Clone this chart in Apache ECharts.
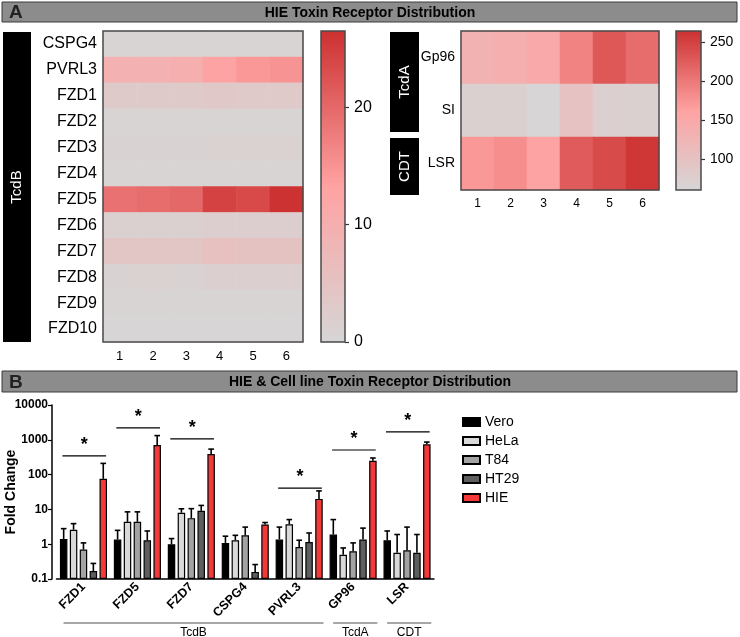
<!DOCTYPE html>
<html><head><meta charset="utf-8">
<script src="https://cdn.jsdelivr.net/npm/echarts@6/dist/echarts.min.js"></script>
<style>html,body{margin:0;padding:0;background:#fff}#c{width:740px;height:637px}</style>
</head><body><div id="c"></div>
<script>
// ---------- Panel A data ----------
const heatCols = ['1','2','3','4','5','6'];
const tcdbRows = ['CSPG4','PVRL3','FZD1','FZD2','FZD3','FZD4','FZD5','FZD6','FZD7','FZD8','FZD9','FZD10'];
const tcdbValues = [
  [0.5,0.5,0.5,0.5,0.5,0.5],
  [9.5,9.5,10,13,14.5,15],
  [3,3,3,3.5,3.2,3.2],
  [0.5,0.5,0.5,0.5,0.5,0.5],
  [1,1,1,1.4,1.4,1.4],
  [0.6,0.6,0.6,0.6,0.6,0.6],
  [19,19.5,20,24.4,23.5,26.3],
  [1.5,1.5,1.5,2,2,2],
  [4,4,4,5.5,5,5],
  [1,1.2,1,1.8,1.8,1.8],
  [0.5,0.5,0.5,0.5,0.5,0.5],
  [0.3,0.3,0.3,0.3,0.3,0.3]
];
const tcdbMin = 0, tcdbMax = 26.5;
const tcdbTicks = [0,10,20];
const rightRows = ['Gp96','SI','LSR'];
const rightValues = [
  [131,138,148,190,228,210],
  [72,73,63,100,75,73],
  [172,180,160,225,240,258]
];
const rightMin = 61, rightMax = 264;
const rightTicks = [100,150,200,250];
const heatColors = ['#d6d6d6','#ffa2a2','#cc3030'];

// ---------- Panel B data ----------
const categories = ['FZD1','FZD5','FZD7','CSPG4','PVRL3','GP96','LSR'];
const seriesNames = ['Vero','HeLa','T84','HT29','HIE'];
const vero    = [1.42,1.36,1.0,1.09,1.36,1.89,1.3];
const veroErr = [2.8,2.5,1.45,1.7,3.1,5.1,2.4];
const hela    = [2.6,4.4,8.0,1.3,3.75,0.5,0.57];
const helaErr = [3.9,8.5,10.4,1.8,5.1,0.78,1.9];
const t84     = [0.70,4.4,5.6,1.8,0.83,0.63,0.67];
const t84Err  = [1.09,8.5,10.5,3.1,1.3,1.09,3.1];
const ht29    = [0.17,1.3,9.1,0.16,1.16,1.36,0.57];
const ht29Err = [0.28,2.4,13,0.26,2.1,2.9,1.9];
const hie     = [76,710,388,3.7,20,250,740];
const hieErr  = [210,1320,540,4.2,34,300,860];
const sigCategories = [0,1,2,4,5,6];
const sigLevels = [344,2200,1060,41,510,1700];
const groupLabels = ['TcdB','TcdA','CDT'];
const groupFrom = [0,5,6];
const groupTo = [4,5,6];

const seriesValues = [vero,hela,t84,ht29,hie];
const seriesErrs = [veroErr,helaErr,t84Err,ht29Err,hieErr];
const seriesColors = ['#000000','#d9d9d9','#a3a3a3','#5e5e5e','#f23a3a'];

const FONT = 'Liberation Sans, Arial, sans-serif';
const chart = echarts.init(document.getElementById('c'), null, {renderer:'canvas'});

function heatData(vals){
  const out=[];
  vals.forEach((row,r)=>row.forEach((v,c)=>out.push([c,r,v])));
  return out;
}
function frameSeries(ax){
  return {type:'custom', xAxisIndex:ax, yAxisIndex:ax, z:5, silent:true,
    data:[[0,0]],
    renderItem:(params)=>{const cs=params.coordSys;
      return {type:'rect', shape:{x:cs.x,y:cs.y,width:cs.width,height:cs.height},
        style:{fill:null, stroke:'#4a4a4a', lineWidth:1.5}};}};
}
function colorbarSeries(ax, vmin){
  return {type:'custom', xAxisIndex:ax, yAxisIndex:ax, silent:true,
    data:[[0,vmin]],
    renderItem:(params)=>{const cs=params.coordSys;
      return {type:'rect', shape:{x:cs.x,y:cs.y,width:cs.width,height:cs.height},
        style:{fill:new echarts.graphic.LinearGradient(0,1,0,0,[
          {offset:0,color:heatColors[0]},{offset:0.5,color:heatColors[1]},{offset:1,color:heatColors[2]}]),
          stroke:'#4a4a4a', lineWidth:1.5}};}};
}

const barWidth = 7.5, barPitch = 9.9;
const barSeries = seriesNames.map((n,k)=>({
  name:n, type:'bar', xAxisIndex:4, yAxisIndex:4,
  data: seriesValues[k], barWidth: barWidth, barGap:'32%', barCategoryGap:'14%',
  itemStyle:{color:seriesColors[k], borderColor:'#000', borderWidth:1.2},
  emphasis:{disabled:true}
}));
const errSeries = seriesNames.map((n,k)=>({
  type:'custom', xAxisIndex:4, yAxisIndex:4, silent:true, z:3,
  encode:{x:0,y:2},
  data: categories.map((c,i)=>[i, seriesValues[k][i], seriesErrs[k][i]]),
  renderItem:(params, api)=>{
    const idx = api.value(0);
    const b = api.coord([idx, api.value(1)]);
    const t = api.coord([idx, api.value(2)]);
    const x = b[0] + (k-2)*barPitch;
    return {type:'group', children:[
      {type:'line', shape:{x1:x,y1:b[1],x2:x,y2:t[1]}, style:{stroke:'#000',lineWidth:1.6}},
      {type:'line', shape:{x1:x-2.8,y1:t[1],x2:x+2.8,y2:t[1]}, style:{stroke:'#000',lineWidth:1.6}}
    ]};
  }
}));
const sigSeries = {
  type:'custom', xAxisIndex:4, yAxisIndex:4, silent:true, z:4, clip:false,
  encode:{x:0,y:1},
  data: sigCategories.map((c,i)=>[c, sigLevels[i]]),
  renderItem:(params, api)=>{
    const p = api.coord([api.value(0), api.value(1)]);
    const band = api.size([1,0])[0];
    const x1 = p[0]-0.39*band, x2 = p[0]+0.42*band;
    return {type:'group', children:[
      {type:'line', shape:{x1:x1,y1:p[1],x2:x2,y2:p[1]}, style:{stroke:'#000',lineWidth:1.2}},
      {type:'text', x:(x1+x2)/2, y:p[1]-2, style:{text:'*', fill:'#000', font:'bold 18px '+FONT, align:'center', verticalAlign:'bottom'}}
    ]};
  }
};

const catAxisLabel = {color:'#000', fontFamily:FONT};
const barGrid = {left:56.5, top:405, width:377.5, height:174};
const option = {
  animation:false,
  textStyle:{fontFamily:FONT},
  grid:[
    {left:103, top:31, width:200, height:311, outerBoundsMode:'none', containLabel:false},
    {left:321, top:31, width:24, height:311, outerBoundsMode:'none', containLabel:false},
    {left:461, top:31, width:198, height:159, outerBoundsMode:'none', containLabel:false},
    {left:676, top:31, width:25, height:159, outerBoundsMode:'none', containLabel:false},
    Object.assign({outerBoundsMode:'none', containLabel:false}, barGrid)
  ],
  xAxis:[
    {gridIndex:0, type:'category', data:heatCols, axisLine:{show:false},
      axisTick:{alignWithLabel:true, length:5, lineStyle:{color:'#333', width:1.2}},
      axisLabel:Object.assign({fontSize:13, margin:8}, catAxisLabel)},
    {gridIndex:1, type:'category', data:['c'], show:false},
    {gridIndex:2, type:'category', data:heatCols, axisLine:{show:false},
      axisTick:{alignWithLabel:true, length:5, lineStyle:{color:'#333', width:1.2}},
      axisLabel:Object.assign({fontSize:12, margin:8}, catAxisLabel)},
    {gridIndex:3, type:'category', data:['c'], show:false},
    {gridIndex:4, type:'category', data:categories,
      axisLine:{lineStyle:{color:'#000', width:1.5}},
      axisTick:{alignWithLabel:true, length:4, lineStyle:{color:'#000', width:1.2}},
      axisLabel:{color:'#000', fontSize:12.5, fontWeight:'bold', rotate:45, margin:6, fontFamily:FONT, interval:0}}
  ],
  yAxis:[
    {gridIndex:0, type:'category', data:tcdbRows, inverse:true, axisLine:{show:false}, axisTick:{show:false},
      axisLabel:Object.assign({fontSize:16, margin:6}, catAxisLabel)},
    {gridIndex:1, type:'value', min:tcdbMin, max:tcdbMax, position:'right', splitLine:{show:false},
      axisLine:{show:false},
      axisTick:{show:true, length:4, customValues:tcdbTicks, lineStyle:{color:'#333', width:1.2}},
      axisLabel:{customValues:tcdbTicks, fontSize:16, color:'#000', margin:9, fontFamily:FONT}},
    {gridIndex:2, type:'category', data:rightRows, inverse:true, axisLine:{show:false}, axisTick:{show:false},
      axisLabel:Object.assign({fontSize:14, margin:6}, catAxisLabel)},
    {gridIndex:3, type:'value', min:rightMin, max:rightMax, position:'right', splitLine:{show:false},
      axisLine:{show:false},
      axisTick:{show:true, length:4, customValues:rightTicks, lineStyle:{color:'#333', width:1.2}},
      axisLabel:{customValues:rightTicks, fontSize:14, color:'#000', margin:9, fontFamily:FONT}},
    {gridIndex:4, type:'log', logBase:10, min:0.1, max:10000, startValue:0.1, offset:4.5,
      splitLine:{show:false}, minorTick:{show:false},
      axisLine:{show:true, lineStyle:{color:'#000', width:1.5}},
      axisTick:{show:true, length:4, lineStyle:{color:'#000', width:1.2}},
      axisLabel:{fontSize:12, fontWeight:'bold', color:'#000', margin:4, fontFamily:FONT,
        formatter:(v)=> v < 1 ? Number(v).toFixed(1) : String(Math.round(v))}}
  ],
  visualMap:[
    {type:'continuous', show:false, seriesIndex:0, min:tcdbMin, max:tcdbMax, dimension:2, inRange:{color:heatColors}},
    {type:'continuous', show:false, seriesIndex:3, min:rightMin, max:rightMax, dimension:2, inRange:{color:heatColors}}
  ],
  legend:{
    data:seriesNames, orient:'vertical', left:457, top:410, icon:'rect',
    itemWidth:17, itemHeight:8, itemGap:5,
    textStyle:{fontSize:14, color:'#000', fontFamily:FONT}, selectedMode:false
  },
  series:[
    {type:'heatmap', xAxisIndex:0, yAxisIndex:0, data:heatData(tcdbValues), emphasis:{disabled:true}},
    frameSeries(0),
    colorbarSeries(1, tcdbMin),
    {type:'heatmap', xAxisIndex:2, yAxisIndex:2, data:heatData(rightValues), emphasis:{disabled:true}},
    frameSeries(2),
    colorbarSeries(3, rightMin),
    ...barSeries,
    ...errSeries,
    sigSeries
  ],
  graphic:[]
};
chart.setOption(option);

// headers, side boxes, axis title, group labels
const g = [];
function header(y, h, letter, title){
  g.push({type:'rect', shape:{x:2,y:y,width:735,height:h}, style:{fill:'#8c8c8c', stroke:'#3a3a3a', lineWidth:1}});
  g.push({type:'text', x:9, y:y+h/2+1, style:{text:letter, font:'bold 19px '+FONT, fill:'#222', verticalAlign:'middle'}});
  g.push({type:'text', x:370, y:y+h/2+1, style:{text:title, font:'bold 14px '+FONT, fill:'#000', align:'center', verticalAlign:'middle'}});
}
header(2, 20, 'A', 'HIE Toxin Receptor Distribution');
header(371, 21, 'B', 'HIE & Cell line Toxin Receptor Distribution');
function sideBox(x, y, w, h, label){
  g.push({type:'rect', shape:{x:x,y:y,width:w,height:h}, style:{fill:'#000'}});
  g.push({type:'text', x:x+w/2, y:y+h/2, rotation:Math.PI/2,
    style:{text:label, font:'15px '+FONT, fill:'#fff', align:'center', verticalAlign:'middle'}});
}
sideBox(3, 32, 28, 310, 'TcdB');
sideBox(390, 32, 29, 100, 'TcdA');
sideBox(390, 138, 29, 57, 'CDT');
g.push({type:'text', x:11, y:barGrid.top + barGrid.height/2, rotation:Math.PI/2,
  style:{text:'Fold Change', font:'bold 14px '+FONT, fill:'#000', align:'center', verticalAlign:'middle'}});
const band = barGrid.width/categories.length;
groupLabels.forEach((lab,i)=>{
  const a = barGrid.left + (groupFrom[i]+0.5)*band;
  const b = barGrid.left + (groupTo[i]+0.5)*band;
  const x1 = a - 0.37*band, x2 = b + 0.45*band;
  g.push({type:'line', shape:{x1:x1,y1:623,x2:x2,y2:623}, style:{stroke:'#8a8a8a', lineWidth:1.5}});
  g.push({type:'text', x:(x1+x2)/2, y:627, style:{text:lab, font:'12px '+FONT, fill:'#000', align:'center', verticalAlign:'top'}});
});
chart.setOption({graphic:g});
</script>
</body></html>
